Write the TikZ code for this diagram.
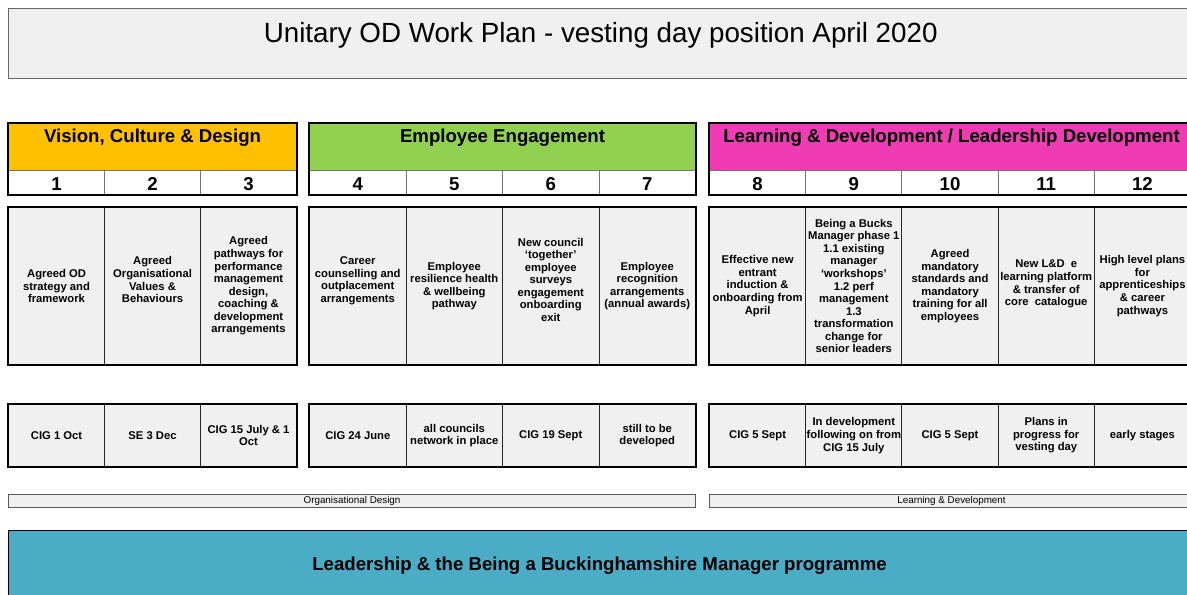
\documentclass[tikz,border=0pt]{standalone}
\usepackage{fontspec}
\setmainfont{Liberation Sans}

\definecolor{cellgrey}{HTML}{F0F0F0}
\definecolor{vcdorange}{HTML}{FFC000}
\definecolor{eegreen}{HTML}{92D050}
\definecolor{ldpink}{HTML}{F03CB4}
\definecolor{leadteal}{HTML}{4BACC6}

\newcommand{\pxl}{0.02cm}

\tikzset{
  box/.style={draw=black!85, line width=0.6pt, anchor=north west, inner sep=0pt, align=center},
  band/.style={box, minimum height=47*\pxl, text height=10.8pt, text depth=15.9pt,
    font=\fontsize{10.6}{12}\selectfont\bfseries},
  numcell/.style={box, draw=black!55, fill=white, minimum height=24*\pxl,
    text height=11.1pt, text depth=2.5pt, font=\fontsize{10.6}{12}\selectfont\bfseries},
  desccell/.style={box, fill=cellgrey, minimum height=157*\pxl,
    font=\fontsize{6.4}{7.15}\selectfont\bfseries},
  statcell/.style={box, fill=cellgrey, minimum height=62*\pxl,
    font=\fontsize{6.4}{7.15}\selectfont\bfseries},
  strip/.style={box, draw=black!65, fill=cellgrey, minimum height=13*\pxl,
    font=\fontsize{5.6}{6}\selectfont},
  frame/.style={draw=black, line width=1.2pt},
  colA/.style={minimum width=96*\pxl},
  colB/.style={minimum width=96.5*\pxl},
  colC/.style={minimum width=96.2*\pxl},
}

\begin{document}
\begin{tikzpicture}[x=0.02cm, y=-0.02cm]
\useasboundingbox (0,0) rectangle (1187,595);
\clip (0,0) rectangle (1187,595);

% heading
\node[box, draw=black!60, line width=0.8pt, fill=cellgrey, minimum width=1184*\pxl,
  text height=19.3pt, text depth=20.4pt, font=\fontsize{15.8}{18}\selectfont]
  (title) at (8,8) {Unitary OD Work Plan - vesting day position April 2020};

% theme bands
\node[band, fill=vcdorange, minimum width=288*\pxl] (vcd) at (8,123) {Vision, Culture \& Design};
\node[band, fill=eegreen, minimum width=386*\pxl] (ee) at (309,123) {Employee Engagement};
\node[band, fill=ldpink, minimum width=484*\pxl] (ld) at (709,123)
  {Learning \& Development / Leadership Development};

% column numbers
\foreach \i in {1,2,3}
  \node[numcell, colA] (num\i) at ({8+96*(\i-1)},170) {\i};
\foreach \i in {4,...,7}
  \node[numcell, colB] (num\i) at ({309+96.5*(\i-4)},170) {\i};
\foreach \i in {8,...,12}
  \node[numcell, colC] (num\i) at ({709+96.2*(\i-8)},170) {\i};

% deliverables
\foreach \i/\c/\txt in {
    1/colA/{Agreed OD\\strategy and\\framework},
    2/colA/{Agreed\\Organisational\\Values \&\\Behaviours\\\mbox{}},
    3/colA/{Agreed\\pathways for\\performance\\management\\design,\\coaching \&\\development\\arrangements},
    4/colB/{Career\\counselling and\\outplacement\\arrangements\\\mbox{}},
    5/colB/{Employee\\resilience health\\\& wellbeing\\pathway},
    6/colB/{New council\\`together'\\employee\\surveys\\engagement\\onboarding\\exit\\\mbox{}},
    7/colB/{Employee\\recognition\\arrangements\\(annual awards)},
    8/colC/{Effective new\\entrant\\induction \&\\onboarding from\\April},
    9/colC/{Being a Bucks\\Manager phase 1\\1.1 existing\\manager\\`workshops'\\1.2 perf\\management\\1.3\\transformation\\change for\\senior leaders},
    10/colC/{Agreed\\mandatory\\standards and\\mandatory\\training for all\\employees},
    11/colC/{New L\&D\ \ e\\learning platform\\\& transfer of\\core\ \ catalogue\\[-3.6pt]\mbox{}},
    12/colC/{High level plans\\for\\apprenticeships\\\& career\\pathways}}
  \node[desccell, \c] (desc\i) at (num\i.south west |- 0,207) {\txt};

% status
\foreach \i/\c/\txt in {
    1/colA/{CIG 1 Oct},
    2/colA/{SE 3 Dec},
    3/colA/{CIG 15 July \& 1\\Oct},
    4/colB/{CIG 24 June},
    5/colB/{all councils\\network in place},
    6/colB/{CIG 19 Sept},
    7/colB/{still to be\\developed},
    8/colC/{CIG 5 Sept},
    9/colC/{In development\\following on from\\CIG 15 July},
    10/colC/{CIG 5 Sept},
    11/colC/{Plans in\\progress for\\vesting day},
    12/colC/{early stages}}
  \node[statcell, \c] (stat\i) at (num\i.south west |- 0,404) {\txt};

% heavy outlines round each group
\foreach \a/\b in {vcd/num3, ee/num7, ld/num12, desc1/desc3, desc4/desc7, desc8/desc12,
    stat1/stat3, stat4/stat7, stat8/stat12}
  \draw[frame] (\a.north west) rectangle (\b.south east);

% workstream strips
\node[strip, minimum width=687*\pxl] (odstrip) at (8,494) {Organisational Design};
\node[strip, minimum width=484*\pxl] (ldstrip) at (709,494) {Learning \& Development};

\node[box, draw=black, fill=leadteal, minimum width=1182*\pxl, minimum height=70*\pxl,
  font=\fontsize{10.6}{12}\selectfont\bfseries] (lead) at (8,530)
  {Leadership \& the Being a Buckinghamshire Manager programme};
\end{tikzpicture}
\end{document}
